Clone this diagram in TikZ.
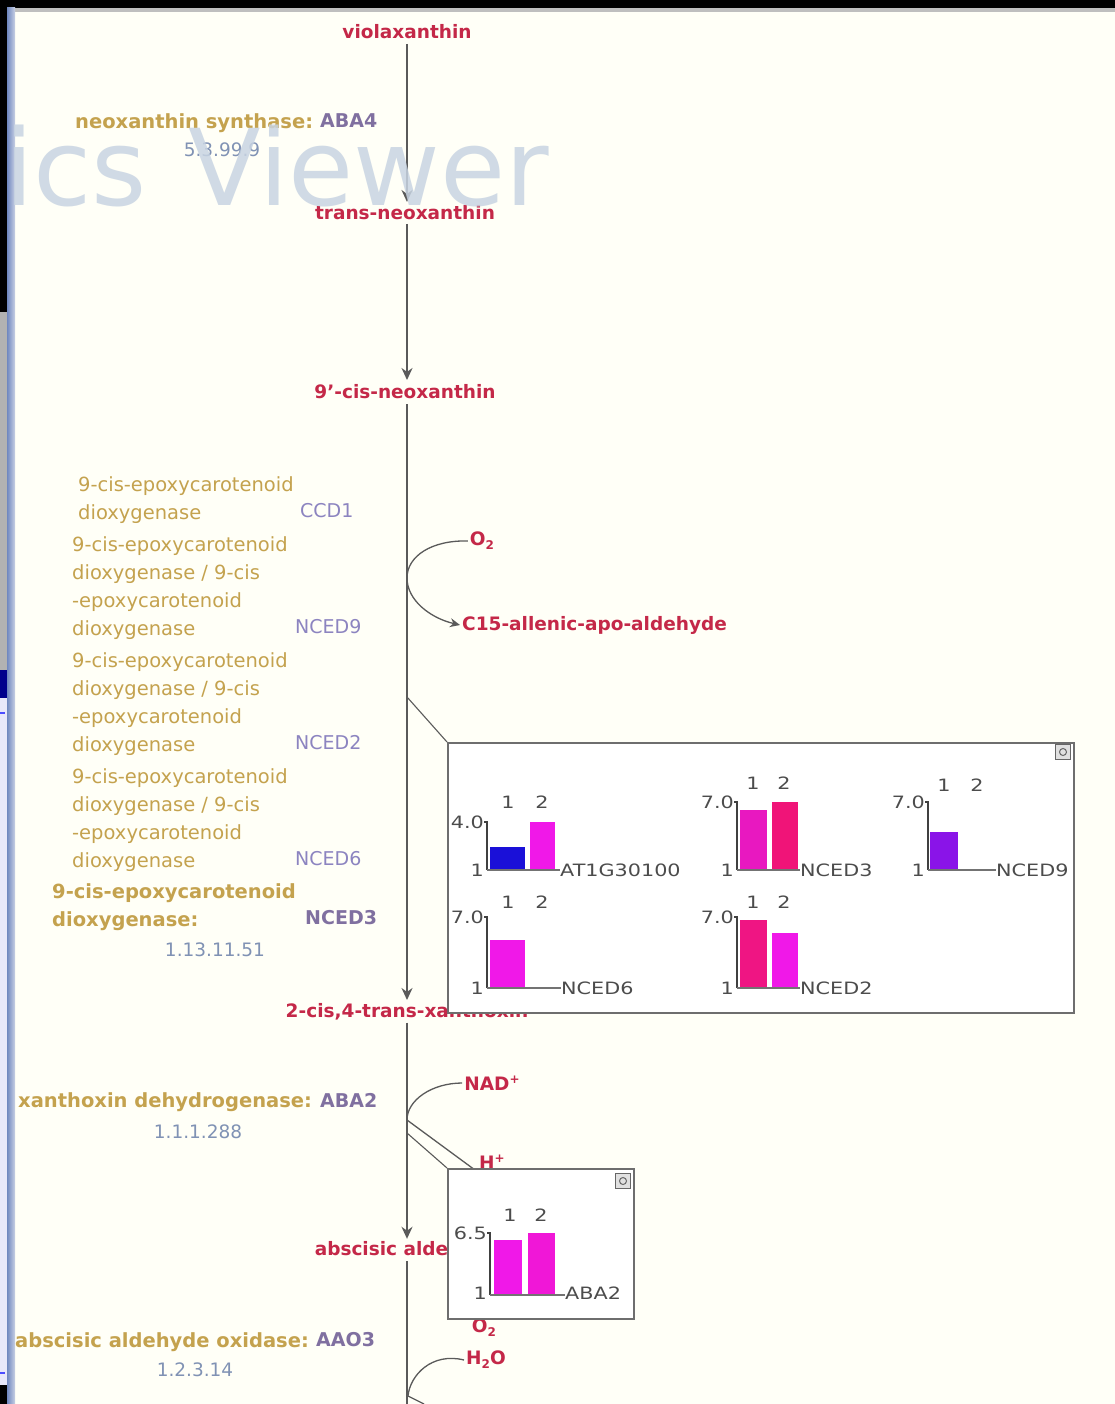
\documentclass[tikz,border=0pt]{standalone}
\usepackage{fontspec}
\setmainfont{DejaVu Sans}
\usetikzlibrary{arrows.meta}
\definecolor{cpdred}{RGB}{196,40,72}
\definecolor{enzgold}{RGB}{196,162,78}
\definecolor{genepur}{RGB}{128,112,160}
\definecolor{genelt}{RGB}{140,132,192}
\definecolor{ecblue}{RGB}{128,146,180}
\definecolor{lineg}{RGB}{90,90,90}
\definecolor{boxg}{RGB}{110,110,110}
\definecolor{wmark}{RGB}{200,212,226}
\definecolor{bblue}{RGB}{26,16,216}
\definecolor{bmag}{RGB}{240,24,232}
\definecolor{bpink}{RGB}{232,24,192}
\definecolor{bred}{RGB}{240,20,120}
\definecolor{bviol}{RGB}{138,20,232}
\definecolor{bordA}{RGB}{112,136,192}
\definecolor{bordB}{RGB}{200,208,228}
\definecolor{lav}{RGB}{232,232,250}
\newcommand\lsub[1]{\raisebox{-0.4ex}{\fontsize{12}{12}\selectfont #1}}
\newcommand\lsup[1]{\raisebox{0.7ex}{\fontsize{12}{12}\selectfont #1}}
\newcommand\tk[1]{\scalebox{1.22}[1]{#1}}
\tikzset{
  cpd/.style={text=cpdred, font=\fontsize{18.5}{20}\selectfont\bfseries, inner sep=2pt},
  enz/.style={text=enzgold, font=\fontsize{19.5}{28}\selectfont, align=left, inner sep=0pt, anchor=north west},
  enzb/.style={text=enzgold, font=\fontsize{19.5}{28}\selectfont\bfseries, align=left, inner sep=0pt, anchor=north west},
  gene/.style={text=genelt, font=\fontsize{19}{20}\selectfont, inner sep=0pt, anchor=west},
  geneb/.style={text=genepur, font=\fontsize{19}{20}\selectfont\bfseries, inner sep=0pt, anchor=west},
  ecn/.style={text=ecblue, font=\fontsize{18.5}{20}\selectfont, inner sep=0pt},
  rxn/.style={draw=lineg, line width=1.6pt, -{Stealth[length=12pt,width=11pt]}},
  rxnline/.style={draw=lineg, line width=1.6pt},
  side/.style={draw=lineg, line width=1.3pt},
  popup/.style={draw=boxg, line width=2.4pt, fill=white, inner sep=0pt, anchor=north west},
  tick/.style={text=black!70, font=\fontsize{17}{18}\selectfont, inner sep=1pt},
  axisl/.style={draw=black!75, line width=1.3pt},
  baseline/.style={draw=black!55, line width=1.3pt},
  icon/.style={draw=black!60, fill=black!12, line width=1pt, minimum size=15pt, inner sep=0pt},
}
\begin{document}
\begin{tikzpicture}[x=1pt,y=-1pt]
\useasboundingbox (0,0) rectangle (1115,1404);
% window frame
\fill[white!97!yellow] (0,0) rectangle (1115,1404);
\fill[black] (0,0) rectangle (1115,8);
\fill[black!25] (14,8) rectangle (1115,12);
\fill[black] (0,0) rectangle (7,312);
\fill[black!30] (0,312) rectangle (7,670);
\fill[blue!55!black] (0,670) rectangle (7,698);
\fill[lav] (0,698) rectangle (7,1385);
\fill[blue!70] (0,712) rectangle (5,714);
\fill[blue!70] (0,1372) rectangle (5,1374);
\fill[black] (0,1385) rectangle (7,1404);
\shade[left color=bordA, right color=bordB] (7,8) rectangle (15,1404);

% compounds
\node[cpd] (viol) at (407,32) {violaxanthin};
\node[cpd] (tneo) at (405,213) {trans-neoxanthin};
\node[cpd] (cneo) at (405,392) {9'-cis-neoxanthin};
\node[cpd] (xan) at (407,1012) {2-cis,4-trans-xanthoxin};
\node[cpd] (ald) at (407,1250) {abscisic aldehyde};
\node[cpd, anchor=west] (c15) at (460,625) {C15-allenic-apo-aldehyde};
\node[cpd] (o2a) at (482,541) {O\lsub{2}};
\node[cpd] (nad) at (492,1083) {NAD\lsup{+}};
\node[cpd] (hp) at (492,1162) {H\lsup{+}};
\node[cpd] (o2b) at (484,1328) {O\lsub{2}};
\node[cpd] (h2o) at (486,1360) {H\lsub{2}O};

% main reaction arrows
\coordinate (m1) at (407,44);
\coordinate (m2) at (407,202);
\coordinate (m3) at (407,224);
\coordinate (m4) at (407,380);
\coordinate (m5) at (407,404);
\coordinate (m6) at (407,1000);
\draw[rxn] (m1) -- (m2);
\draw[rxn] (m3) -- (m4);
\draw[rxn] (m5) -- (m6);
\draw[rxn] (xan) -- (ald);
\coordinate (bot) at (407,1404);
\draw[rxnline] (ald) -- (bot);

% side reactions
\coordinate (s1) at (407,578);
\draw[side] (o2a.west) .. controls (432,540) and (407,556) .. (s1);
\draw[side, -{Stealth[length=10pt,width=9pt]}] (s1) .. controls (407,600) and (430,618) .. (c15.west);
\coordinate (s2) at (407,1120);
\draw[side] (nad.west) .. controls (432,1083) and (407,1100) .. (s2);
\draw[side] (s2) -- (hp.south west);
\coordinate (s3) at (408,1396);
\draw[side] (h2o.west) .. controls (432,1352) and (410,1375) .. (s3);
\coordinate (s3b) at (424,1404);
\draw[side] (s3) -- (s3b);

% enzyme labels
\node[enzb] (e1) at (75,113) {neoxanthin synthase:};
\node[geneb] (g1) at (320,121) {ABA4};
\node[ecn] (ec1) at (222,150) {5.3.99.9};

\node[enz] (e2) at (78,476) {9-cis-epoxycarotenoid\\dioxygenase};
\node[gene] (g2) at (300,511) {CCD1};
\node[enz] (e3) at (72,536) {9-cis-epoxycarotenoid\\dioxygenase / 9-cis\\-epoxycarotenoid\\dioxygenase};
\node[gene] (g3) at (295,627) {NCED9};
\node[enz] (e4) at (72,652) {9-cis-epoxycarotenoid\\dioxygenase / 9-cis\\-epoxycarotenoid\\dioxygenase};
\node[gene] (g4) at (295,743) {NCED2};
\node[enz] (e5) at (72,768) {9-cis-epoxycarotenoid\\dioxygenase / 9-cis\\-epoxycarotenoid\\dioxygenase};
\node[gene] (g5) at (295,859) {NCED6};
\node[enzb] (e6) at (52,883) {9-cis-epoxycarotenoid\\dioxygenase:};
\node[geneb] (g6) at (305,918) {NCED3};
\node[ecn] (ec6) at (215,950) {1.13.11.51};

\node[enzb] (e7) at (18,1092) {xanthoxin dehydrogenase:};
\node[geneb] (g7) at (320,1100) {ABA2};
\node[ecn] (ec7) at (198,1132) {1.1.1.288};

\node[enzb] (e8) at (15,1332) {abscisic aldehyde oxidase:};
\node[geneb] (g8) at (316,1340) {AAO3};
\node[ecn] (ec8) at (195,1370) {1.2.3.14};

% link to popup 1
\coordinate (lk1) at (407,697);
\node[popup, minimum width=626pt, minimum height=270pt] (box1) at (447,742) {};
\draw[side, line width=1.1pt] (lk1) -- (box1.north west);
\node[icon] (ic1) at (1063,752) {};
\draw[black!60, line width=1pt] (ic1.center) circle (3.5pt);

% chart 1
\draw[axisl] (484,822) -- (487,822) -- (487,870);
\fill[bblue] (490,847) rectangle (525,870);
\fill[bmag] (530,822) rectangle (555,870);
\draw[baseline] (487,870) -- (560,870);
\node[tick, anchor=east] (c1t) at (485,822) {\tk{4.0}};
\node[tick, anchor=east] (c1b) at (485,870) {\tk{1}};
\node[tick] (c1n1) at (508,802) {\tk{1}};
\node[tick] (c1n2) at (542,802) {\tk{2}};
\node[tick, anchor=west] (c1g) at (559,870) {\tk{AT1G30100}};
% chart 2
\draw[axisl] (734,802) -- (737,802) -- (737,870);
\fill[bpink] (740,810) rectangle (767,870);
\fill[bred] (772,802) rectangle (798,870);
\draw[baseline] (737,870) -- (800,870);
\node[tick, anchor=east] (c2t) at (735,802) {\tk{7.0}};
\node[tick, anchor=east] (c2b) at (735,870) {\tk{1}};
\node[tick] (c2n1) at (753,783) {\tk{1}};
\node[tick] (c2n2) at (784,783) {\tk{2}};
\node[tick, anchor=west] (c2g) at (799,870) {\tk{NCED3}};
% chart 3
\draw[axisl] (925,802) -- (928,802) -- (928,870);
\fill[bviol] (930,832) rectangle (958,870);
\draw[baseline] (928,870) -- (996,870);
\node[tick, anchor=east] (c3t) at (926,802) {\tk{7.0}};
\node[tick, anchor=east] (c3b) at (926,870) {\tk{1}};
\node[tick] (c3n1) at (944,785) {\tk{1}};
\node[tick] (c3n2) at (977,785) {\tk{2}};
\node[tick, anchor=west] (c3g) at (995,870) {\tk{NCED9}};
% chart 4
\draw[axisl] (484,917) -- (487,917) -- (487,988);
\fill[bmag] (490,940) rectangle (525,988);
\draw[baseline] (487,988) -- (561,988);
\node[tick, anchor=east] (c4t) at (485,917) {\tk{7.0}};
\node[tick, anchor=east] (c4b) at (485,988) {\tk{1}};
\node[tick] (c4n1) at (508,902) {\tk{1}};
\node[tick] (c4n2) at (542,902) {\tk{2}};
\node[tick, anchor=west] (c4g) at (560,988) {\tk{NCED6}};
% chart 5
\draw[axisl] (734,917) -- (737,917) -- (737,988);
\fill[bred!85!bpink] (740,920) rectangle (767,988);
\fill[bmag] (772,933) rectangle (798,988);
\draw[baseline] (737,988) -- (800,988);
\node[tick, anchor=east] (c5t) at (735,917) {\tk{7.0}};
\node[tick, anchor=east] (c5b) at (735,988) {\tk{1}};
\node[tick] (c5n1) at (753,902) {\tk{1}};
\node[tick] (c5n2) at (784,902) {\tk{2}};
\node[tick, anchor=west] (c5g) at (799,988) {\tk{NCED2}};

% popup 2
\coordinate (lk2) at (407,1133);
\node[popup, minimum width=186pt, minimum height=150pt] (box2) at (447,1168) {};
\draw[side, line width=1.1pt] (lk2) -- (box2.north west);
\node[icon] (ic2) at (623,1181) {};
\draw[black!60, line width=1pt] (ic2.center) circle (3.5pt);
\draw[axisl] (487,1233) -- (490,1233) -- (490,1295);
\fill[bmag] (494,1240) rectangle (522,1295);
\fill[bmag!85!bred] (528,1233) rectangle (555,1295);
\draw[baseline] (490,1295) -- (565,1295);
\node[tick, anchor=east] (c6t) at (488,1233) {\tk{6.5}};
\node[tick, anchor=east] (c6b) at (488,1293) {\tk{1}};
\node[tick] (c6n1) at (510,1215) {\tk{1}};
\node[tick] (c6n2) at (541,1215) {\tk{2}};
\node[tick, anchor=west] (c6g) at (564,1293) {\tk{ABA2}};

% watermark
\node[text=wmark, opacity=0.85, font=\fontsize{106}{106}\selectfont, anchor=base west, inner sep=0pt] (wm) at (4,206) {ics\hspace{8pt} Viewer};
\end{tikzpicture}
\end{document}
